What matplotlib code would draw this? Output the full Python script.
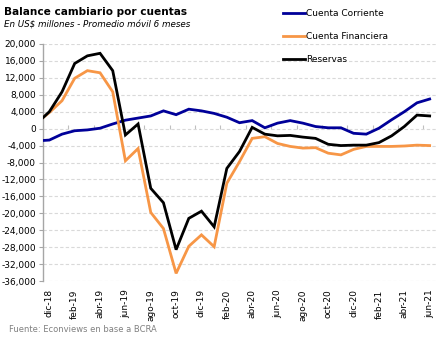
import matplotlib
matplotlib.use("Agg")
import matplotlib.pyplot as plt
import numpy as np

months = ["nov-18", "dic-18", "ene-19", "feb-19", "mar-19", "abr-19", "may-19", "jun-19",
          "jul-19", "ago-19", "sep-19", "oct-19", "nov-19", "dic-19", "ene-20", "feb-20",
          "mar-20", "abr-20", "may-20", "jun-20", "jul-20", "ago-20", "sep-20", "oct-20",
          "nov-20", "dic-20", "ene-21", "feb-21", "mar-21", "abr-21", "may-21", "jun-21"]

cuenta_corriente = [-2900, -2700, -1300, -500, -300, 100, 1100, 2000, 2500, 3000, 4200, 3300,
                    4600, 4200, 3600, 2700, 1400, 1900, 200, 1300, 1900, 1300, 500, 200,
                    200, -1100, -1300, 100, 2100, 4000, 6100, 7000]
cuenta_financiera = [1400, 3800, 6600, 11900, 13700, 13200, 8700, -7600, -4700, -19800, -23600,
                     -34200, -27800, -25100, -27900, -12900, -7800, -2300, -1900, -3500, -4200,
                     -4600, -4500, -5800, -6200, -4900, -4200, -4200, -4200, -4100, -3900, -4000]
reservas = [1200, 4000, 8700, 15400, 17200, 17800, 13700, -1500, 1100, -14100, -17500, -28600,
            -21200, -19500, -23200, -9400, -5400, 300, -1300, -1700, -1600, -2000, -2300, -3700,
            -4000, -3900, -3900, -3300, -1700, 500, 3200, 3000]

series_names = ["Cuenta Corriente", "Cuenta Financiera", "Reservas"]
colors = ["#000099", "#F79646", "#000000"]

x = np.arange(len(months)) - 1  # dic-18 at 0

fig = plt.figure(figsize=(4.43, 3.41), dpi=100)
ax = fig.add_axes([43/443, 1-281/341, (436-43)/443, (281-44)/341])

for vals, name, c in zip([cuenta_corriente, cuenta_financiera, reservas], series_names, colors):
    ax.plot(x, vals, color=c, lw=2.0, label=name, solid_joinstyle="miter", zorder=3)

ax.set_xlim(-0.5, 30.5)
ax.set_ylim(-36000, 20000)
yt = np.arange(-36000, 20001, 4000)
ax.set_yticks(yt)
ax.set_yticklabels([f"{v:,.0f}" for v in yt], fontsize=6.5)
ax.yaxis.grid(True, color="#D9D9D9", ls=(0, (3, 2)), lw=0.8)
ax.set_axisbelow(True)

for s in ["top", "right", "bottom"]:
    ax.spines[s].set_visible(False)
ax.spines["left"].set_color("#A6A6A6")
ax.spines["left"].set_linewidth(1)
ax.tick_params(axis="y", length=3, color="#A6A6A6", pad=2)

lab_idx = [i for i in range(1, len(months), 2)]
ax.set_xticks(x[lab_idx])
ax.set_xticklabels([months[i] for i in lab_idx], rotation=90, fontsize=6.5)
ax.tick_params(axis="x", length=0, pad=6)

# zero axis with tick marks
sec = ax.secondary_xaxis(36000/56000)
sec.set_xticks(x[lab_idx] - 0.5)
sec.set_xticklabels([])
sec.tick_params(axis="x", length=3, color="#BFBFBF", direction="out")
sec.spines["bottom"].set_color("#BFBFBF")
sec.spines["bottom"].set_linewidth(2)
sec.spines["top"].set_visible(False)

fig.text(4/443, 1-12/341, "Balance cambiario por cuentas", fontsize=7.6, fontweight="bold",
         va="center", ha="left")
fig.text(4/443, 1-25/341, "En US$ millones - Promedio móvil 6 meses", fontsize=6.3,
         style="italic", va="center", ha="left")
fig.text(9/443, 1-330/341, "Fuente: Econviews en base a BCRA", fontsize=6, color="#808080",
         va="center", ha="left")

fig.legend(loc="upper left", bbox_to_anchor=(283/443, 1-9/341), frameon=False,
           fontsize=6.5, handlelength=2.4, handletextpad=0.2, labelspacing=1.55,
           borderpad=0, borderaxespad=0)

fig.savefig("out.png", dpi=100)
